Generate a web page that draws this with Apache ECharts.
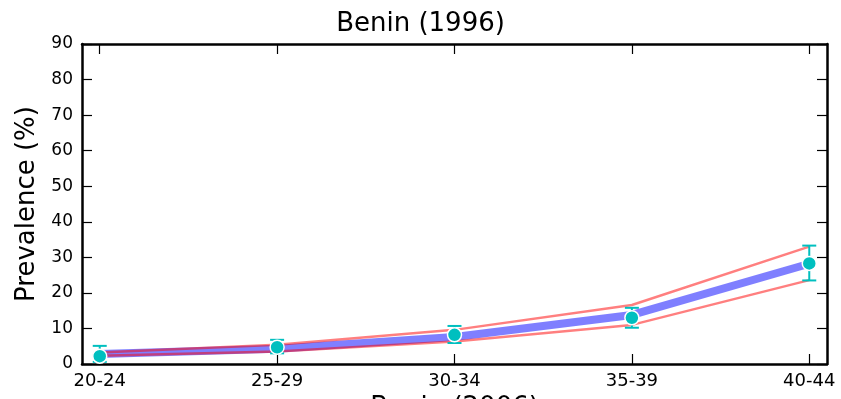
<!DOCTYPE html>
<html>
<head>
<meta charset="utf-8">
<script src="https://cdn.jsdelivr.net/npm/echarts@6/dist/echarts.min.js"></script>
<style>
html,body{margin:0;padding:0;background:#fff;}
#chart{width:841px;height:399px;}
</style>
</head>
<body>
<div id="chart"></div>
<script>
const categories = ['20-24', '25-29', '30-34', '35-39', '40-44'];
const meanVals = [2.8, 4.3, 7.6, 13.8, 28.2];
const upperVals = [3.2, 5.4, 9.6, 16.6, 33.0];
const lowerVals = [2.3, 3.5, 6.3, 11.0, 23.6];
const obsVals = [2.2, 4.7, 8.2, 13.0, 28.3];
const errLow = [0.6, 3.0, 5.9, 10.2, 23.5];
const errHigh = [5.1, 6.8, 10.7, 15.8, 33.3];
const xTickVals = [0, 1, 2, 3, 4];

const FONT = 'DejaVu Sans';
const chart = echarts.init(document.getElementById('chart'), null, {renderer: 'canvas'});

const toPairs = arr => arr.map((v, i) => [i, v]);

const xBase = {
  type: 'value', min: -0.1, max: 4.1,
  axisLine: {show: true, onZero: false, lineStyle: {color: '#000', width: 2.5}},
  splitLine: {show: false},
  axisTick: {show: true, inside: true, length: 10, customValues: xTickVals, lineStyle: {color: '#000', width: 1.2}},
};
const yBase = {
  type: 'value', min: 0, max: 90, interval: 10,
  axisLine: {show: true, onZero: false, lineStyle: {color: '#000', width: 2.5}},
  splitLine: {show: false},
  axisTick: {show: true, inside: true, length: 10, lineStyle: {color: '#000', width: 1.2}},
};

const option = {
  animation: false,
  backgroundColor: '#fff',
  title: {
    text: 'Benin (1996)', left: 'center', top: 6,
    textStyle: {fontFamily: FONT, fontSize: 26, fontWeight: 'normal', color: '#000'}
  },
  grid: {left: 82, right: 14, top: 44, bottom: 35, containLabel: false, outerBoundsMode: 'none'},
  xAxis: [
    Object.assign({}, xBase, {
      position: 'bottom',
      name: 'Benin (2006)', nameLocation: 'middle', nameGap: 25,
      nameTextStyle: {fontFamily: FONT, fontSize: 26, color: '#000'},
      axisLabel: {show: true, customValues: xTickVals, formatter: v => categories[Math.round(v)], margin: 8,
        fontFamily: FONT, fontSize: 18, color: '#000'}
    }),
    Object.assign({}, xBase, {position: 'top', axisLabel: {show: false}})
  ],
  yAxis: [
    Object.assign({}, yBase, {
      position: 'left',
      name: 'Prevalence (%)', nameLocation: 'middle', nameGap: 41, nameRotate: 90,
      nameTextStyle: {fontFamily: FONT, fontSize: 26, color: '#000'},
      axisLabel: {show: true, margin: 9, fontFamily: FONT, fontSize: 17, color: '#000'}
    }),
    Object.assign({}, yBase, {position: 'right', axisLabel: {show: false}})
  ],
  series: [
    {
      type: 'line', data: toPairs(meanVals), showSymbol: false, symbol: 'none',
      lineStyle: {color: 'rgba(0,0,255,0.5)', width: 8}, z: 2
    },
    {
      type: 'line', data: toPairs(upperVals), showSymbol: false, symbol: 'none',
      lineStyle: {color: 'rgba(255,0,0,0.5)', width: 2.5}, z: 3
    },
    {
      type: 'line', data: toPairs(lowerVals), showSymbol: false, symbol: 'none',
      lineStyle: {color: 'rgba(255,0,0,0.5)', width: 2.5}, z: 3
    },
    {
      type: 'custom', z: 4,
      data: errLow.map((lo, i) => [i, lo, errHigh[i]]),
      renderItem: function (params, api) {
        const x = api.value(0);
        const lo = api.coord([x, api.value(1)]);
        const hi = api.coord([x, api.value(2)]);
        const cap = 7;
        const style = {stroke: '#00bfbf', lineWidth: 2};
        return {
          type: 'group',
          children: [
            {type: 'line', shape: {x1: lo[0], y1: lo[1], x2: hi[0], y2: hi[1]}, style: style},
            {type: 'line', shape: {x1: lo[0] - cap, y1: lo[1], x2: lo[0] + cap, y2: lo[1]}, style: style},
            {type: 'line', shape: {x1: hi[0] - cap, y1: hi[1], x2: hi[0] + cap, y2: hi[1]}, style: style}
          ]
        };
      }
    },
    {
      type: 'scatter', data: toPairs(obsVals), symbol: 'circle', symbolSize: 14, z: 5,
      itemStyle: {color: '#00bfbf', borderColor: '#fff', borderWidth: 1.5, opacity: 1}
    }
  ]
};
chart.setOption(option);
</script>
</body>
</html>
